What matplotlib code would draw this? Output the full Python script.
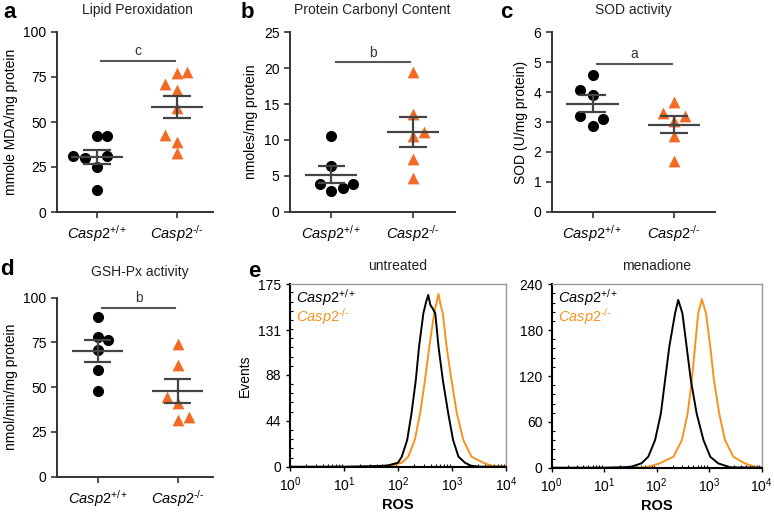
import numpy as np
import matplotlib.pyplot as plt
from matplotlib.ticker import AutoMinorLocator, LogLocator, NullFormatter

plt.rcParams['font.family'] = 'Liberation Sans'
plt.rcParams['mathtext.fontset'] = 'custom'
plt.rcParams['mathtext.rm'] = 'Liberation Sans'
plt.rcParams['mathtext.it'] = 'Liberation Sans:italic'
plt.rcParams['mathtext.bf'] = 'Liberation Sans:bold'
plt.rcParams['font.size'] = 10

# genotypes
groups = [r'$\mathit{Casp2}^{\mathit{+/+}}$', '$\\mathit{Casp2}^{\\mathit{\u2010/\u2010}}$']

# a - lipid peroxidation (mmole MDA/mg protein)
lipid_wt = [42, 42, 31, 30, 31, 25, 12]
lipid_ko = [78, 77, 71, 68, 58, 43, 39, 32.5]
# b - protein carbonyl (nmoles/mg protein)
carb_wt = [10.5, 6.3, 3.9, 2.9, 3.3, 3.9]
carb_ko = [19.5, 13.6, 10.6, 11.1, 7.3, 4.65]
# c - SOD (U/mg protein)
sod_wt = [4.57, 4.07, 3.9, 3.2, 2.88, 3.09]
sod_ko = [3.68, 3.29, 3.2, 3.04, 2.53, 1.69]
# d - GSH-Px (nmol/min/mg protein)
gsh_wt = [89.4, 77.8, 76.4, 70.8, 59.6, 47.9]
gsh_ko = [73.9, 62.4, 44.7, 41.3, 31.7, 33.5]

# e - ROS histograms (log10 ROS, events)
unt_wt_x = [0, 1.0, 1.5, 1.8, 2.0, 2.07, 2.17, 2.25, 2.33, 2.39, 2.47, 2.52, 2.56,
            2.6, 2.64, 2.69, 2.75, 2.83, 2.93, 3.02, 3.12, 3.24, 3.35, 3.5, 4.0]
unt_wt_y = [0, 0, 0.5, 1, 3.8, 9.6, 25.6, 51.2, 83.2, 115.2, 147.2, 158, 164.8,
            155, 152, 147.2, 115.2, 83.2, 51.2, 25.6, 9.6, 3.8, 1, 0, 0]
unt_ko_x = [1.5, 1.9, 2.07, 2.19, 2.31, 2.41, 2.50, 2.58, 2.67, 2.75, 2.79, 2.83,
            2.90, 2.99, 3.09, 3.21, 3.36, 3.58, 3.75, 4.0]
unt_ko_y = [0, 1.5, 3.8, 9.6, 25.6, 51.2, 83.2, 115.2, 147.2, 165.7, 155, 147.2,
            115.2, 83.2, 51.2, 25.6, 9.6, 3.8, 0.5, 0]
men_wt_x = [0, 1.0, 1.5, 1.71, 1.84, 1.97, 2.08, 2.16, 2.24, 2.35, 2.41, 2.49,
            2.57, 2.65, 2.76, 2.89, 3.02, 3.17, 3.4, 4.0]
men_wt_y = [0, 0, 1, 5.7, 14.4, 36.3, 71.2, 114.8, 158.4, 202, 219.5, 202,
            158.4, 114.8, 71.2, 36.3, 14.4, 5.7, 0.5, 0]
men_ko_x = [1.5, 1.8, 2.06, 2.32, 2.48, 2.59, 2.67, 2.73, 2.79, 2.86, 2.94,
            3.02, 3.09, 3.19, 3.30, 3.46, 3.68, 3.9, 4.0]
men_ko_y = [0, 0.5, 5.7, 14.4, 36.3, 71.2, 114.8, 158.4, 202, 220.5, 202,
            158.4, 114.8, 71.2, 36.3, 14.4, 5.7, 0.5, 0]

orange = '#F26A24'
orange2 = '#F7921E'
axcol = '#333333'

W, H = 774, 515


def box(l, t, r, b):
    return [l / W, (H - b) / H, (r - l) / W, (b - t) / H]


def dot_plot(ax, wt, ko, wt_dx, ko_dx, ymax, ystep, ylabel, sig, sig_y, xlim):
    ax.scatter(np.array(wt_dx), wt, marker='o', s=64, color='black',
               linewidths=0, zorder=3)
    ax.scatter(1 + np.array(ko_dx), ko, marker='^', s=72, color=orange,
               linewidths=0, zorder=3)
    for i, vals in enumerate([wt, ko]):
        m = np.mean(vals)
        se = np.std(vals, ddof=1) / np.sqrt(len(vals))
        ax.hlines(m, i - 0.32, i + 0.32, color='#444444', lw=1.6, zorder=4)
        ax.hlines([m - se, m + se], i - 0.17, i + 0.17, color='#444444', lw=1.6, zorder=4)
        ax.vlines(i, m - se, m + se, color='#444444', lw=1.6, zorder=4)
    ax.plot([0.05, 0.97], [sig_y, sig_y], color='#555555', lw=1.5, clip_on=False)
    ax.annotate(sig, (0.51, sig_y), xytext=(0, 2), textcoords='offset points',
                ha='center', va='bottom', fontsize=10, color='#333333')
    ax.set_xlim(*xlim)
    ax.set_ylim(0, ymax)
    ax.set_yticks(np.arange(0, ymax + ystep / 2, ystep))
    ax.set_xticks([0, 1], groups)
    ax.set_ylabel(ylabel, fontsize=10)
    for s in ['top', 'right']:
        ax.spines[s].set_visible(False)
    for s in ['left', 'bottom']:
        ax.spines[s].set_color(axcol)
        ax.spines[s].set_linewidth(1.4)
    ax.tick_params(direction='out', length=4, width=1.2, color=axcol, labelsize=10)
    ax.tick_params(axis='x', labelsize=10.5, pad=4)


def hist_plot(ax, wx, wy, kx, ky, yticks, title):
    ax.plot(10 ** np.array(wx), wy, color='black', lw=1.4, zorder=3)
    ax.plot(10 ** np.array(kx), ky, color=orange2, lw=1.4, zorder=2)
    ax.set_xscale('log')
    ax.set_xlim(1, 1e4)
    ax.set_ylim(0, yticks[-1])
    ax.set_yticks(yticks)
    ax.xaxis.set_minor_locator(LogLocator(base=10, subs=np.arange(2, 10)))
    ax.xaxis.set_minor_formatter(NullFormatter())
    ax.yaxis.set_minor_locator(AutoMinorLocator(5))
    for s in ['top', 'right']:
        ax.spines[s].set_color('#999999')
        ax.spines[s].set_linewidth(1.0)
    for s in ['left', 'bottom']:
        ax.spines[s].set_color('black')
        ax.spines[s].set_linewidth(1.5)
    ax.tick_params(which='major', direction='out', length=3, width=1, labelsize=10)
    ax.tick_params(which='minor', direction='in', length=2.5, width=0.8)
    ax.set_xlabel('ROS', fontweight='bold', fontsize=10.5, labelpad=3)
    ax.text(0.5, 1.06, title, transform=ax.transAxes, ha='center', va='bottom',
            fontsize=10, color='#222222')
    ax.text(0.03, 0.93, groups[0], transform=ax.transAxes, va='center',
            fontsize=10.5, color='black')
    ax.text(0.03, 0.825, groups[1], transform=ax.transAxes, va='center',
            fontsize=10.5, color=orange2)


fig = plt.figure(figsize=(W / 100, H / 100), dpi=100)

ax_a = fig.add_axes(box(57, 32, 213, 212))
dot_plot(ax_a, lipid_wt, lipid_ko, [0, .125, -.3, -.15, .125, 0, 0],
         [.13, 0, -.15, 0, 0, -.15, 0, 0], 100, 25, 'mmole MDA/mg protein',
         'c', 84, (-0.5, 1.45))
ax_b = fig.add_axes(box(290, 32.3, 455, 211.7))
dot_plot(ax_b, carb_wt, carb_ko, [0, 0, -.14, 0, .14, .27],
         [0, 0, 0, .135, 0, 0], 25, 5, 'nmoles/mg protein',
         'b', 20.8, (-0.51, 1.52))
ax_c = fig.add_axes(box(551.7, 32.3, 715, 211.7))
dot_plot(ax_c, sod_wt, sod_ko, [0, -.15, 0, -.15, 0, .13],
         [0, -.14, .135, 0, 0, 0], 6, 1, 'SOD (U/mg protein)',
         'a', 4.95, (-0.5, 1.5))
ax_d = fig.add_axes(box(57, 297.7, 213, 476.7))
dot_plot(ax_d, gsh_wt, gsh_ko, [0, 0, .13, 0, 0, 0],
         [0, 0, -.14, 0, 0, .14], 100, 25, 'nmol/min/mg protein',
         'b', 94.4, (-0.51, 1.44))

ax_e1 = fig.add_axes(box(290, 284.3, 506, 466.7))
hist_plot(ax_e1, unt_wt_x, unt_wt_y, unt_ko_x, unt_ko_y, [0, 44, 88, 131, 175], 'untreated')
ax_e1.set_ylabel('Events', fontsize=10)
ax_e2 = fig.add_axes(box(551.7, 284.3, 761.7, 467.7))
hist_plot(ax_e2, men_wt_x, men_wt_y, men_ko_x, men_ko_y, [0, 60, 120, 180, 240], 'menadione')

# titles
for x, y, t in [(137, 10, 'Lipid Peroxidation'), (372, 10, 'Protein Carbonyl Content'),
                (633, 10, 'SOD activity'), (140, 272, 'GSH-Px activity')]:
    fig.text(x / W, 1 - y / H, t, ha='center', va='center', fontsize=10, color='#222222')

# panel letters
for x, y, t in [(3, 18, 'a'), (241, 18, 'b'), (500, 18, 'c'), (0, 275, 'd'), (248, 277, 'e')]:
    fig.text(x / W, 1 - y / H, t, ha='left', va='baseline', fontsize=16, fontweight='bold')

fig.savefig('out.png', dpi=100)
